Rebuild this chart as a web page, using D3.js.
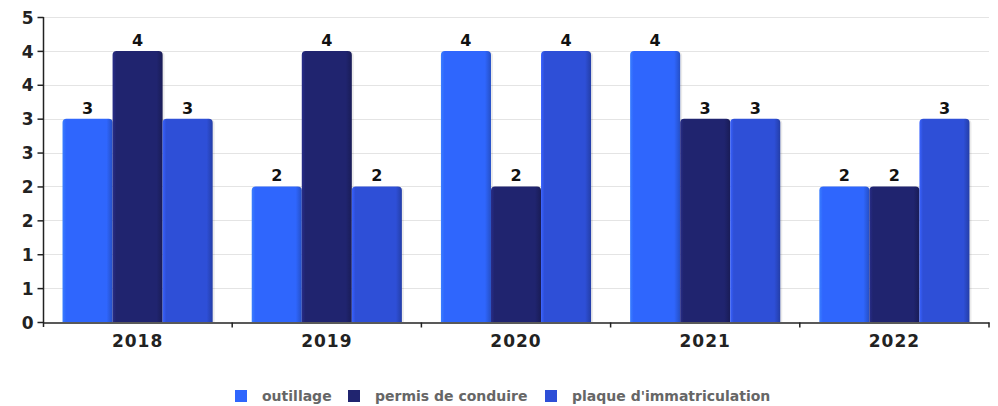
<!DOCTYPE html>
<html>
<head>
<meta charset="utf-8">
<script src="https://cdn.jsdelivr.net/npm/d3@7"></script>
<style>
  html, body { margin: 0; padding: 0; background: #fff; }
  svg { display: block; font-family: "DejaVu Sans", sans-serif; }
</style>
</head>
<body>
<svg id="chart" width="998" height="406"></svg>
<script>
// Years on the x axis
const years = ["2018", "2019", "2020", "2021", "2022"];
// Series names (legend order)
const seriesNames = ["outillage", "permis de conduire", "plaque d'immatriculation"];
// Values per series, one per year
const outillage = [3, 2, 4, 4, 2];
const permis = [4, 4, 2, 3, 2];
const plaque = [3, 2, 4, 3, 3];
// Y axis tick values (labels are rounded to integers)
const yTicks = [0, 0.5, 1, 1.5, 2, 2.5, 3, 3.5, 4, 4.5];
const seriesColors = ["#2f66fd", "#20246f", "#2e4fd7"];

const seriesValues = [outillage, permis, plaque];
const svg = d3.select("#chart");
const margin = { left: 43, right: 9, top: 17, bottom: 84 };
const W = 998, H = 406;
const x0 = margin.left, x1 = W - margin.right;
const yBase = H - margin.bottom;

const x = d3.scaleBand().domain(years).range([x0, x1]).paddingInner(0).paddingOuter(0);
const xs = d3.scaleBand().domain(seriesNames).range([0, x.bandwidth()]).paddingOuter(0.39).paddingInner(0);
const y = d3.scaleLinear().domain([0, 4.5]).range([yBase, margin.top]);

// Gradients giving each bar a rounded, cylinder-like shading
const defs = svg.append("defs");
seriesColors.forEach((c, i) => {
  const base = d3.color(c);
  const g = defs.append("linearGradient").attr("id", "grad" + i)
    .attr("x1", "0").attr("x2", "1").attr("y1", "0").attr("y2", "0");
  g.append("stop").attr("offset", "0").attr("stop-color", base.brighter(0.6));
  g.append("stop").attr("offset", "0.07").attr("stop-color", base);
  g.append("stop").attr("offset", "0.88").attr("stop-color", base);
  g.append("stop").attr("offset", "1").attr("stop-color", base.darker(0.7));
});

// Gridlines
svg.append("g").selectAll("line").data(yTicks.slice(1))
  .join("line")
  .attr("x1", x0).attr("x2", x1)
  .attr("y1", d => Math.round(y(d)) + 0.5).attr("y2", d => Math.round(y(d)) + 0.5)
  .attr("stroke", "#e4e4e4").attr("stroke-width", 1);

// Bars with rounded top corners
function barPath(bx, by, bw, bh, r) {
  r = Math.min(r, bh, bw / 2);
  return `M${bx},${by + bh}V${by + r}Q${bx},${by} ${bx + r},${by}H${bx + bw - r}Q${bx + bw},${by} ${bx + bw},${by + r}V${by + bh}Z`;
}

const groups = svg.append("g").selectAll("g").data(years).join("g")
  .attr("transform", d => `translate(${x(d)},0)`);

const barData = yi => seriesNames.map((s, si) => ({ s, si, v: seriesValues[si][yi] }));

groups.each(function (yr, yi) {
  const g = d3.select(this);
  const data = barData(yi);
  // soft shadow on the right side
  g.selectAll("path.shadow").data(data).join("path").attr("class", "shadow")
    .attr("d", d => barPath(xs(d.s) + 2, y(d.v) + 1, xs.bandwidth(), yBase - y(d.v) - 1, 4))
    .attr("fill", "#000").attr("opacity", 0.08);
  g.selectAll("path.bar").data(data).join("path").attr("class", "bar")
    .attr("d", d => barPath(xs(d.s), y(d.v), xs.bandwidth(), yBase - y(d.v), 4))
    .attr("fill", d => `url(#grad${d.si})`);
  g.selectAll("text.val").data(data).join("text").attr("class", "val")
    .attr("x", d => xs(d.s) + xs.bandwidth() / 2)
    .attr("y", d => y(d.v) - 5)
    .attr("text-anchor", "middle")
    .attr("font-size", 16).attr("font-weight", "bold").attr("fill", "#111")
    .text(d => d.v);
});

// Y axis
const yAxis = d3.axisLeft(y).tickValues(yTicks).tickSize(6).tickSizeOuter(0).tickFormat(d => Math.round(d));
const yg = svg.append("g").attr("transform", `translate(${x0 + 0.5},0)`).call(yAxis);
yg.select(".domain").attr("d", `M0,${y(4.5)}V${yBase + 5}`).attr("stroke", "#222").attr("stroke-width", 1.5);
yg.selectAll(".tick line").attr("stroke", "#222").attr("stroke-width", 1.5);
yg.selectAll(".tick text").attr("font-size", 17).attr("font-weight", "bold").attr("fill", "#222")
  .attr("font-family", "DejaVu Sans, sans-serif").attr("x", -10).attr("dy", "0.36em");

// X axis
const xAxis = d3.axisBottom(x).tickSize(0).tickSizeOuter(0);
const xg = svg.append("g").attr("transform", `translate(0,${yBase + 0.5})`).call(xAxis);
xg.select(".domain").attr("stroke", "#222").attr("stroke-width", 1.5);
xg.selectAll(".tick text").attr("font-size", 17).attr("font-weight", "bold").attr("fill", "#222")
  .attr("font-family", "DejaVu Sans, sans-serif").attr("letter-spacing", 1)
  .attr("y", 24).attr("dy", 0);
// separators between categories
xg.append("g").selectAll("line").data(years.slice(1).concat(["end"]))
  .join("line")
  .attr("x1", d => d === "end" ? x1 : x(d)).attr("x2", d => d === "end" ? x1 : x(d))
  .attr("y1", 0).attr("y2", 5).attr("stroke", "#222").attr("stroke-width", 1.5);

// Legend
const legendX = [235, 348, 545];
const legend = svg.append("g").selectAll("g").data(seriesNames).join("g")
  .attr("transform", (d, i) => `translate(${legendX[i]},390)`);
legend.append("rect").attr("width", 12).attr("height", 12).attr("fill", (d, i) => seriesColors[i]);
legend.append("text").attr("x", 27).attr("y", 11)
  .attr("font-size", 14).attr("font-weight", "bold").attr("fill", "#666")
  .attr("font-family", "DejaVu Sans, sans-serif")
  .text(d => d);
</script>
</body>
</html>
